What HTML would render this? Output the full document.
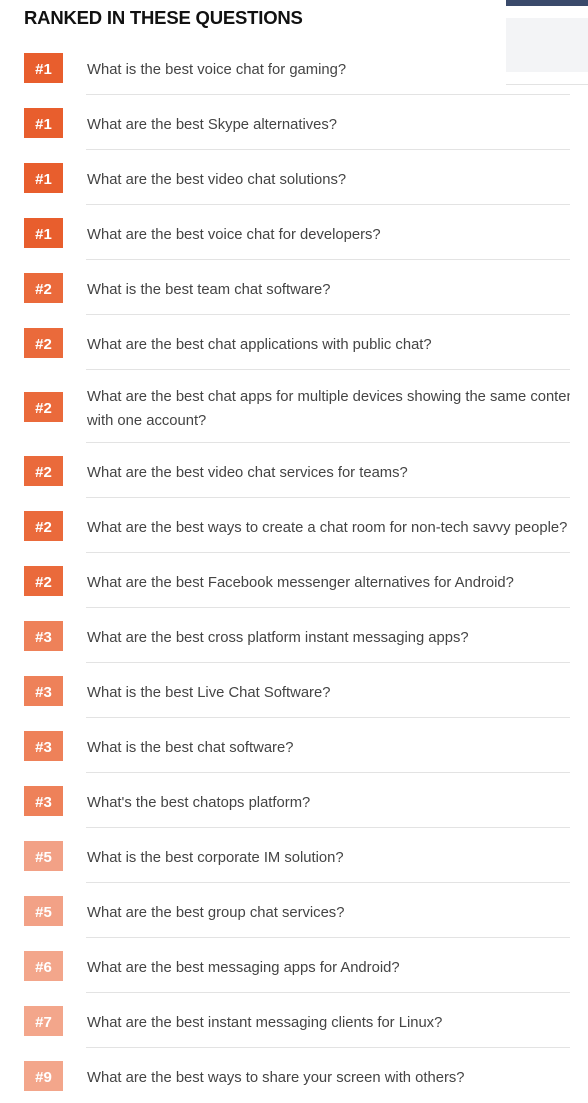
<!DOCTYPE html>
<html><head><meta charset="utf-8"><style>
body{margin:0;width:588px;height:1100px;background:#fff;position:relative;overflow:hidden;font-family:"Liberation Sans",sans-serif}
h2{position:absolute;left:24px;top:7px;margin:0;font-size:18.5px;font-weight:bold;color:#111;letter-spacing:-0.2px}
.row{position:absolute;left:0;width:570px;overflow:hidden}
.badge{position:absolute;left:24px;width:39px;height:30px;color:#fff;font-weight:bold;font-size:15px;line-height:33px;text-align:center;overflow:hidden}
.q{position:absolute;left:87px;width:520px;font-size:14.8px;color:#444;line-height:24px;white-space:nowrap}
.sep{position:absolute;left:86px;width:484px;height:1px;background:#e3e3e3}
</style></head><body>
<h2>RANKED IN THESE QUESTIONS</h2>
<div style="position:absolute;left:506px;top:0;width:82px;height:6px;background:#3a4a6b"></div>
<div style="position:absolute;left:506px;top:18px;width:82px;height:54px;background:#f3f4f6"></div>
<div style="position:absolute;left:506px;top:84px;width:82px;height:1px;background:#e3e3e3"></div>
<div id="list"></div>
<script>
const ranks=[1,1,1,1,2,2,2,2,2,2,3,3,3,3,5,5,6,7,9];
const questions=["What is the best voice chat for gaming?","What are the best Skype alternatives?","What are the best video chat solutions?","What are the best voice chat for developers?","What is the best team chat software?","What are the best chat applications with public chat?","What are the best chat apps for multiple devices showing the same content<br>with one account?","What are the best video chat services for teams?","What are the best ways to create a chat room for non-tech savvy people?","What are the best Facebook messenger alternatives for Android?","What are the best cross platform instant messaging apps?","What is the best Live Chat Software?","What is the best chat software?","What's the best chatops platform?","What is the best corporate IM solution?","What are the best group chat services?","What are the best messaging apps for Android?","What are the best instant messaging clients for Linux?","What are the best ways to share your screen with others?"];
const colorFor=r=>({1:"#e85e2d",2:"#ea6a3b",3:"#ee8159",5:"#f2a186",6:"#f3a68b",7:"#f3a68b",9:"#f3a68b"})[r];
const list=document.getElementById('list');
let y=40;
questions.forEach((q,i)=>{
  const two=q.includes('<br>');
  const h=two?73:55;
  const row=document.createElement('div');
  row.className='row';row.style.top=y+'px';row.style.height=h+'px';
  
  
  const b=document.createElement('div');
  b.className='badge';b.textContent='#'+ranks[i];b.style.background=colorFor(ranks[i]);
  b.style.top=(h/2-15)+'px';
  
  
  const t=document.createElement('div');
  t.className='q';t.innerHTML=q;t.style.top=(h/2-(two?24:12)+2)+'px';
  
  
  row.appendChild(b);row.appendChild(t);
  if(i<questions.length-1){const s=document.createElement('div');s.className='sep';s.style.top=(h-1)+'px';
  
  
  row.appendChild(s);}
  list.appendChild(row);
  y+=h;
});
</script>
</body></html>
